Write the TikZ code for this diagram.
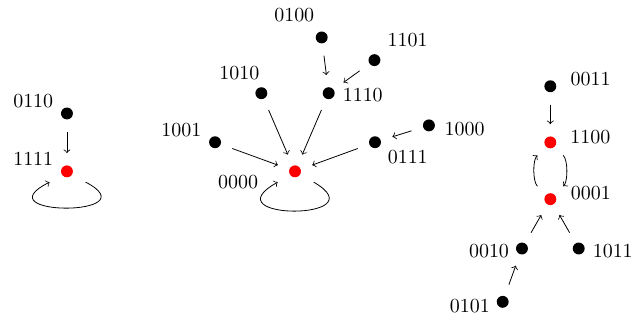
\documentclass[tikz,border=0pt]{standalone}
\begin{document}
\begin{tikzpicture}[>=to,
        dot/.style={circle, fill=black, inner sep=0pt, minimum size=0.21cm},
        fixd/.style={dot, fill=red},
        lbl/.style={anchor=center},
        arr/.style={->, shorten >=0.21cm, shorten <=0.21cm}]
        \useasboundingbox (-5.20,-2.66) rectangle (6.01,3.02);

        % Fixed point 1111
        \node[fixd, label={[lbl, label distance=0.52cm]160:1111}] (n1111) at (-4.02,0) {};
        \node[dot, label={[lbl, label distance=0.52cm]160:0110}] (n0110) at (-4.02,1.02) {};
        \draw[arr] (n0110) -- (n1111);
        \draw[->] ([shift={(-30:0.38)}]n1111.center) .. controls +(1.17,-0.61) and +(-1.22,-0.61) .. ([shift={(-148:0.36)}]n1111.center);

        % Fixed point 0000 and its tree
        \node[fixd, label={[lbl, label distance=0.91cm]191:0000}] (n0000) at (0,0) {};
        \node[dot, label={[lbl, label distance=0.52cm]160:1001}] (n1001) at (160:1.5) {};
        \node[dot, label={[lbl, label distance=0.41cm]138:1010}] (n1010) at (113.3:1.5) {};
        \node[dot, label={[lbl, label distance=0.49cm]-4:1110}] (n1110) at (66.7:1.5) {};
        \node[dot, label={[lbl, label distance=0.52cm]-24:0111}] (n0111) at (20:1.5) {};
        \node[dot, label={[lbl, label distance=0.51cm]141:0100}] (n0100) at (0.47,2.36) {};
        \node[dot, label={[lbl, label distance=0.57cm]31:1101}] (n1101) at (1.40,1.96) {};
        \node[dot, label={[lbl, label distance=0.52cm]-6:1000}] (n1000) at (2.36,0.81) {};
        \draw[arr] (n1001) -- (n0000);
        \draw[arr] (n1010) -- (n0000);
        \draw[arr] (n1110) -- (n0000);
        \draw[arr] (n0111) -- (n0000);
        \draw[arr] (n0100) -- (n1110);
        \draw[arr] (n1101) -- (n1110);
        \draw[arr] (n1000) -- (n0111);
        \draw[->] ([shift={(-30:0.38)}]n0000.center) .. controls +(1.17,-0.68) and +(-1.22,-0.68) .. ([shift={(-148:0.36)}]n0000.center);

        % Cycle 1100 <-> 0001
        \node[fixd, label={[lbl, label distance=0.60cm]7:1100}] (n1100) at (4.5,0.51) {};
        \node[fixd, label={[lbl, label distance=0.61cm]9:0001}] (n0001) at (4.5,-0.49) {};
        \node[dot, label={[lbl, label distance=0.61cm]10:0011}] (n0011) at (4.5,1.5) {};
        \node[dot, label={[lbl, label distance=0.47cm]184:0010}] (n0010) at (4.0,-1.36) {};
        \node[dot, label={[lbl, label distance=0.49cm]-4:1011}] (n1011) at (5.0,-1.36) {};
        \node[dot, label={[lbl, label distance=0.47cm]187:0101}] (n0101) at (3.66,-2.30) {};
        \draw[arr] (n0001) to[bend left=45] (n1100);
        \draw[arr] (n1100) to[bend left=45] (n0001);
        \draw[arr] (n0011) -- (n1100);
        \draw[arr] (n0010) -- (n0001);
        \draw[arr] (n1011) -- (n0001);
        \draw[arr] (n0101) -- (n0010);
\end{tikzpicture}
\end{document}
